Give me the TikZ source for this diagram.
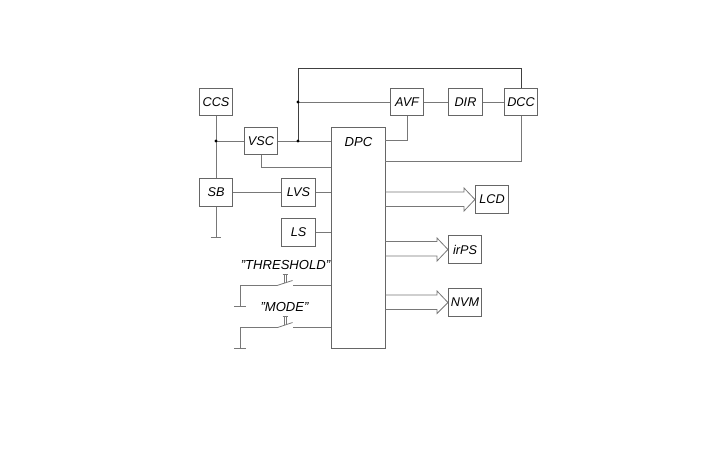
\documentclass[tikz,border=0pt]{standalone}
\usepackage{fontspec}
\setmainfont{Liberation Sans}
\tikzset{
  block/.style={draw=boxgray,line width=0.6pt,minimum width=25pt,minimum height=20.5pt,inner sep=0pt,font=\itshape\fontsize{9.5}{11}\selectfont},
  wire/.style={draw=wiregray,line width=0.6pt},
  dot/.style={circle,fill=black,inner sep=0pt,minimum size=2.5pt},
  tag/.style={font=\itshape\fontsize{9.8}{11}\selectfont,inner sep=0pt}
}
\definecolor{boxgray}{gray}{0.4}
\definecolor{wiregray}{gray}{0.47}
\begin{document}
\begin{tikzpicture}[x=0.75pt,y=-0.75pt,line cap=butt,line join=miter]
  \useasboundingbox (0,0) rectangle (709,454);

  % Blocks of the upper row and the left-hand column.
  \node[block] (ccs) at (216,102) {CCS};
  \node[block] (vsc) at (261,141) {VSC};
  \node[block] (sb) at (216,192.5) {SB};
  \node[block] (lvs) at (298.5,192.5) {LVS};
  \node[block] (ls) at (298.5,232.5) {LS};
  \node[block] (avf) at (407,102) {AVF};
  \node[block] (dir) at (465.5,102) {DIR};
  \node[block] (dcc) at (521,102) {DCC};

  % Central block, label kept in its upper part.
  \node[block,minimum width=40.5pt,minimum height=166pt] (dpc) at (358,238) {};
  \node[tag] (dpclabel) at (358.5,142) {DPC};

  % Output blocks.
  \node[block] (lcd) at (492,199.5) {LCD};
  \node[block] (irps) at (465,249.5) {irPS};
  \node[block] (nvm) at (465,302.5) {NVM};

  % Wires.
  \coordinate (jsb) at (216,141);
  \coordinate (jtop) at (298,102);
  \coordinate (jmid) at (298,141);
  \coordinate (gsb) at (216,237);
  \draw[wire] (ccs.south)--(sb.north);
  \draw[wire] (jsb)--(vsc.west);
  \draw[wire] (vsc.east)--(vsc.east -| dpc.west);
  \draw[wire] (vsc.south) |- (0,167 -| dpc.west);
  \draw[wire] (sb.east)--(lvs.west);
  \draw[wire] (lvs.east)--(lvs.east -| dpc.west);
  \draw[wire] (ls.east)--(ls.east -| dpc.west);
  \draw[wire] (sb.south)--(gsb);
  \draw[wire] ([xshift=-4pt]gsb)--([xshift=4pt]gsb);
  \draw[wire] (jtop)--(avf.west);
  \draw[wire] (avf.east)--(dir.west);
  \draw[wire] (dir.east)--(dcc.west);
  \draw[wire,draw=black!75] (jmid)--(298,68.5)--(521,68.5)--(dcc.north);
  \draw[wire] (avf.south) |- (0,140.5 -| dpc.east);
  \draw[wire] (dcc.south) |- (0,161 -| dpc.east);
  \node[dot] (dotsb) at (jsb) {};
  \node[dot] (dottop) at (jtop) {};
  \node[dot] (dotmid) at (jmid) {};

  % Open arrows towards the outputs.
  \draw[wire] (0,192 -| dpc.east)--(464,192)--(464,188)--(lcd.west)--(464,211)--(464,206.5)--(0,206.5 -| dpc.east);
  \draw[wire] (0,241.5 -| dpc.east)--(437,241.5)--(437,238)--(irps.west)--(437,261)--(437,256)--(0,256 -| dpc.east);
  \draw[wire] (0,295 -| dpc.east)--(437,295)--(437,291)--(nvm.west)--(437,313.5)--(437,309.5)--(0,309.5 -| dpc.east);

  % Push-button switches with their labels.
  \node[tag] (threshold) at (285.5,265) {"THRESHOLD"};
  \coordinate (ta) at (277,285.5);
  \coordinate (tb) at (293,285.5);
  \coordinate (tg) at (240,306);
  \draw[wire] (tb)--(tb -| dpc.west);
  \draw[wire] (ta)--(240,285.5)--(tg);
  \draw[wire] ([xshift=-4.5pt]tg)--([xshift=4.5pt]tg);
  \draw[wire] (ta)--(292.5,280.5);
  \draw[wire] (282.5,274.5)--(288,274.5);
  \draw[wire] (284,274.5)--(284,283);
  \draw[wire] (286.5,274.5)--(286.5,282);

  \node[tag] (mode) at (284.5,307) {"MODE"};
  \coordinate (ma) at (277.5,327.5);
  \coordinate (mb) at (293,327.5);
  \coordinate (mg) at (240,348);
  \draw[wire] (mb)--(mb -| dpc.west);
  \draw[wire] (ma)--(240,327.5)--(mg);
  \draw[wire] ([xshift=-4.5pt]mg)--([xshift=4.5pt]mg);
  \draw[wire] (ma)--(292.5,322.5);
  \draw[wire] (282.5,316.5)--(288,316.5);
  \draw[wire] (284,316.5)--(284,325);
  \draw[wire] (286.5,316.5)--(286.5,324);
\end{tikzpicture}
\end{document}
